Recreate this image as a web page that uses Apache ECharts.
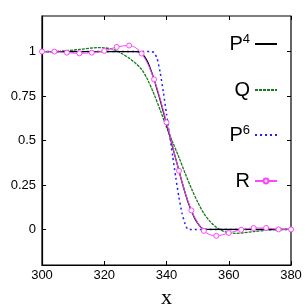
<!DOCTYPE html>
<html><head><meta charset="utf-8">
<script src="https://cdn.jsdelivr.net/npm/echarts@6/dist/echarts.min.js"></script>
<style>html,body{margin:0;padding:0;background:#fff}#c{width:305px;height:305px}</style>
</head><body><div id="c"></div>
<script>
const xTicks = [300, 320, 340, 360, 380];
const yTicks = [0, 0.25, 0.5, 0.75, 1];
const seriesNames = ['P4', 'Q', 'P6', 'R'];

const p4X = [300, 330, 331, 332, 333, 334, 335, 336, 337, 338, 339, 340, 341, 342, 343, 344, 345, 346, 347, 348, 349, 350, 351, 352, 353, 380];
const p4Y = [1, 1, 0.998, 0.99, 0.97, 0.94, 0.895, 0.845, 0.785, 0.725, 0.66, 0.595, 0.53, 0.46, 0.395, 0.33, 0.265, 0.205, 0.15, 0.105, 0.065, 0.035, 0.013, 0.003, 0, 0];

const qX = [300, 304, 308, 312, 316, 318, 320, 322, 324, 326, 328, 330, 332, 334, 336, 338, 340, 342, 344, 346, 348, 350, 352, 354, 356, 358, 360, 362, 364, 368, 372, 376, 380];
const qY = [1, 1.0, 1.005, 1.012, 1.02, 1.022, 1.021, 1.016, 1.005, 0.985, 0.963, 0.935, 0.9, 0.84, 0.76, 0.67, 0.575, 0.49, 0.405, 0.315, 0.23, 0.155, 0.09, 0.045, 0.012, -0.008, -0.018, -0.022, -0.02, -0.012, -0.005, -0.001, 0];

const p6X = [300, 335, 336, 337, 338, 339, 340, 341, 342, 343, 344, 345, 346, 347, 380];
const p6Y = [1, 1, 0.995, 0.96, 0.88, 0.77, 0.65, 0.53, 0.41, 0.29, 0.18, 0.09, 0.03, 0, 0];

const rX = [300, 304, 308, 312, 316, 320, 324, 328, 332, 336, 340, 344, 348, 352, 356, 360, 364, 368, 372, 376, 380];
const rY = [1.0, 1.0, 0.994, 0.99, 0.994, 1.004, 1.026, 1.034, 0.989, 0.844, 0.602, 0.33, 0.107, -0.008, -0.036, -0.02, -0.002, 0.008, 0.008, 0.0, 0];

const zip = (xs, ys) => xs.map((x, i) => [x, ys[i]]);
const font = 'Liberation Sans, Arial, sans-serif';

const chart = echarts.init(document.getElementById('c'), null, {renderer: 'canvas'});
const tickStyle = {show: true, inside: true, length: 4, lineStyle: {color: '#000', width: 1}};
const hidden = {opacity: 0};
chart.setOption({
  animation: false,
  grid: {left: 42, right: 14, top: 16, bottom: 40, show: true, borderColor: '#000', borderWidth: 1.2,
         containLabel: false, outerBoundsMode: 'none'},
  legend: {
    orient: 'vertical', right: 22, top: 28, align: 'right',
    itemWidth: 22, itemHeight: 6, itemGap: 23,
    data: [
      {name: 'P4', itemStyle: hidden},
      {name: 'Q', itemStyle: hidden},
      {name: 'P6', itemStyle: hidden},
      {name: 'R'}
    ],
    textStyle: {fontFamily: font, fontSize: 20, color: '#000', lineHeight: 22,
      rich: {sup: {fontFamily: font, fontSize: 13, verticalAlign: 'top', lineHeight: 22, padding: [0, 0, 10, 0]}}},
    formatter: function (n) {
      if (n === 'P4') return 'P{sup|4}';
      if (n === 'P6') return 'P{sup|6}';
      return n;
    }
  },
  xAxis: [{
    type: 'value', min: 300, max: 380, interval: 20, position: 'bottom',
    name: 'x', nameLocation: 'middle', nameGap: 13,
    nameTextStyle: {fontFamily: 'Liberation Serif, serif', fontSize: 22, color: '#000'},
    axisLine: {show: true, onZero: false, lineStyle: {color: '#000', width: 1.2}},
    axisTick: tickStyle, splitLine: {show: false},
    axisLabel: {fontFamily: font, fontSize: 13, color: '#000', margin: 4}
  }, {
    type: 'value', min: 300, max: 380, interval: 20, position: 'top',
    axisLine: {show: false, onZero: false}, axisTick: tickStyle, axisLabel: {show: false}, splitLine: {show: false}
  }],
  yAxis: [{
    type: 'value', min: -0.2, max: 1.2, position: 'left',
    name: 'c(x)', nameLocation: 'middle', nameGap: 33, nameRotate: 90,
    nameTextStyle: {fontFamily: font, fontSize: 19, color: '#000'},
    axisLine: {show: true, onZero: false, lineStyle: {color: '#000', width: 1.2}},
    axisTick: Object.assign({}, tickStyle, {customValues: yTicks}),
    splitLine: {show: false},
    axisLabel: {customValues: yTicks, fontFamily: font, fontSize: 13, color: '#000', margin: 6}
  }, {
    type: 'value', min: -0.2, max: 1.2, position: 'right',
    axisLine: {show: false, onZero: false},
    axisTick: Object.assign({}, tickStyle, {customValues: yTicks}),
    axisLabel: {show: false}, splitLine: {show: false}
  }],
  series: [
    {name: 'P4', type: 'line', data: zip(p4X, p4Y), showSymbol: false, symbol: 'none', smooth: 0.3,
     lineStyle: {color: '#000', width: 1.3}, itemStyle: {color: '#000'}, z: 4},
    {name: 'Q', type: 'line', data: zip(qX, qY), showSymbol: false, symbol: 'none', smooth: 0.3,
     lineStyle: {color: '#1a7a1a', width: 1.3, type: [3, 1]}, itemStyle: {color: '#1a7a1a'}, z: 2},
    {name: 'P6', type: 'line', data: zip(p6X, p6Y), showSymbol: false, symbol: 'none', smooth: 0.2,
     lineStyle: {color: '#2020ff', width: 1.5, type: [2, 3]}, itemStyle: {color: '#2020ff'}, z: 3},
    {name: 'R', type: 'line', data: zip(rX, rY), symbol: 'circle', symbolSize: 5, smooth: 0.35,
     lineStyle: {color: '#ff44ff', width: 1}, itemStyle: {color: '#fff', borderColor: '#ff44ff', borderWidth: 1}, z: 5}
  ]
});
</script></body></html>
